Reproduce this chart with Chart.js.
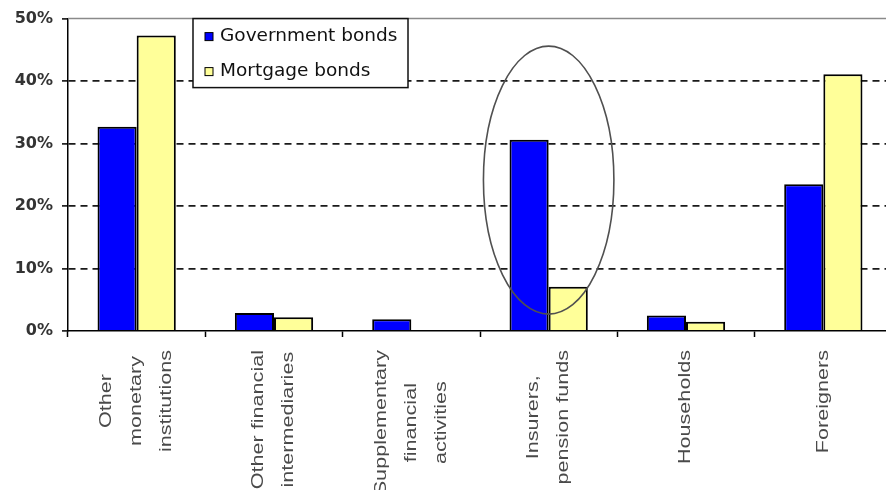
<!DOCTYPE html>
<html>
<head>
<meta charset="utf-8">
<script src="https://cdn.jsdelivr.net/npm/chart.js@4.4.0/dist/chart.umd.min.js"></script>
<style>
  html, body { margin: 0; padding: 0; background: #fff; overflow: hidden; }
  #wrap { width: 892px; height: 490px; }
</style>
</head>
<body>
<div id="wrap"><canvas id="bonds" width="892" height="490"></canvas></div>
<script>
const blue = "#0000FF";
const yellow = "#FFFF99";

// holders of the bonds, one entry per line of the rotated label
const categories = [
  ["Other", "monetary", "institutions"],
  ["Other financial", "intermediaries"],
  ["Supplementary", "financial", "activities"],
  ["Insurers,", "pension funds"],
  ["Households"],
  ["Foreigners"]
];

// share of each bond type held (%)
const governmentBonds = [32.7, 2.9, 1.9, 30.6, 2.5, 23.5];
const mortgageBonds   = [47.3, 2.2, 0, 7.1, 1.5, 41.1];

const yTicks = [0, 10, 20, 30, 40, 50];

// the hand-drawn ring around the insurers' bars (category index, value range)
const ringCategory = 3;
const ringFrom = 2.7;
const ringTo = 45.6;

const STRETCH = 1.35; // the source text is drawn wide

const xLabelPlugin = {
  id: 'xLabels',
  afterDraw(chart) {
    const ctx = chart.ctx;
    const xs = chart.scales.x;
    ctx.save();
    ctx.font = '16px "Liberation Sans", Arial, sans-serif';
    ctx.fillStyle = '#4a4a4a';
    ctx.textAlign = 'center';
    ctx.textBaseline = 'middle';
    categories.forEach((lines, i) => {
      const x = xs.getPixelForValue(i);
      const maxW = Math.max(...lines.map(l => ctx.measureText(l).width * STRETCH));
      const cy = xs.top + 19 + maxW / 2;
      lines.forEach((line, j) => {
        const lx = x + (j - (lines.length - 1) / 2) * 30;
        ctx.save();
        ctx.translate(lx, cy);
        ctx.rotate(-Math.PI / 2);
        ctx.scale(STRETCH, 1);
        ctx.fillText(line, 0, 0);
        ctx.restore();
      });
    });
    ctx.restore();
  }
};

const framePlugin = {
  id: 'frame',
  beforeDatasetsDraw(chart) {
    const { ctx, chartArea } = chart;
    ctx.save();
    ctx.strokeStyle = '#8a8a8a';
    ctx.lineWidth = 1.5;
    ctx.beginPath();
    ctx.moveTo(chartArea.left, chartArea.top);
    ctx.lineTo(chartArea.right, chartArea.top);
    ctx.stroke();
    ctx.restore();
  },
  afterDatasetsDraw(chart) {
    // ring
    const { ctx } = chart;
    const xs = chart.scales.x, ys = chart.scales.y;
    const cx = xs.getPixelForValue(ringCategory);
    const top = ys.getPixelForValue(ringTo);
    const bottom = ys.getPixelForValue(ringFrom);
    const rx = (xs.getPixelForValue(1) - xs.getPixelForValue(0)) * 0.475;
    ctx.save();
    ctx.strokeStyle = '#505050';
    ctx.lineWidth = 1.6;
    ctx.beginPath();
    ctx.ellipse(cx, (top + bottom) / 2, rx, (bottom - top) / 2, 0, 0, Math.PI * 2);
    ctx.stroke();

    // legend box
    const lx = chart.chartArea.left + 125;
    const ly = chart.chartArea.top;
    ctx.fillStyle = '#fff';
    ctx.fillRect(lx, ly, 215, 69);
    ctx.strokeStyle = '#111';
    ctx.lineWidth = 1.5;
    ctx.strokeRect(lx, ly, 215, 69);
    const items = [["Government bonds", blue], ["Mortgage bonds", yellow]];
    ctx.font = '18.5px "DejaVu Sans", Verdana, sans-serif';
    ctx.textBaseline = 'middle';
    items.forEach(([text, col], k) => {
      const y = ly + 18 + k * 35;
      ctx.fillStyle = col;
      ctx.fillRect(lx + 12, y - 4, 8, 8);
      ctx.strokeStyle = '#000';
      ctx.lineWidth = 1;
      ctx.strokeRect(lx + 12, y - 4, 8, 8);
      ctx.fillStyle = '#111';
      ctx.fillText(text, lx + 27, y);
    });
    ctx.restore();
  }
};

const chartData = {
  labels: categories,
  datasets: [
    {
      label: "Government bonds",
      data: governmentBonds,
      backgroundColor: blue,
      borderColor: "#000",
      borderWidth: 2
    },
    {
      label: "Mortgage bonds",
      data: mortgageBonds,
      backgroundColor: yellow,
      borderColor: "#000",
      borderWidth: 2
    }
  ]
};

const chartConfig = {
  type: 'bar',
  data: chartData,
  plugins: [framePlugin, xLabelPlugin],
  options: {
    responsive: false,
    animation: false,
    layout: { padding: { top: 13, right: 0, left: 0, bottom: 0 } },
    datasets: { bar: { categoryPercentage: 0.57, barPercentage: 1.0 } },
    plugins: {
      legend: { display: false },
      tooltip: { enabled: false }
    },
    scales: {
      x: {
        afterFit: (axis) => { axis.height = 159; },
        ticks: { display: false },
        grid: {
          offset: true,
          drawOnChartArea: false,
          drawTicks: true,
          tickLength: 6,
          tickColor: '#000',
          tickWidth: 1.5
        },
        border: { display: true, color: '#000', width: 1.5 }
      },
      y: {
        min: 0,
        max: 50,
        afterFit: (axis) => { axis.width = 68; },
        afterBuildTicks: (axis) => { axis.ticks = yTicks.map(v => ({ value: v })); },
        ticks: {
          callback: (v) => v + '%',
          padding: 9,
          color: '#333',
          font: { family: '"DejaVu Sans", Verdana, sans-serif', size: 16, weight: 'bold' }
        },
        grid: {
          color: (c) => (c.tick && (c.tick.value === 0 || c.tick.value === 50)) ? 'rgba(0,0,0,0)' : '#1a1a1a',
          lineWidth: 1.8,
          tickLength: 6,
          tickColor: '#000',
          tickWidth: 1.5
        },
        border: { display: true, color: '#000', width: 1.5, dash: [7, 5] }
      }
    }
  }
};

const bondsChart = new Chart(document.getElementById('bonds').getContext('2d'), chartConfig);
</script>
</body>
</html>
